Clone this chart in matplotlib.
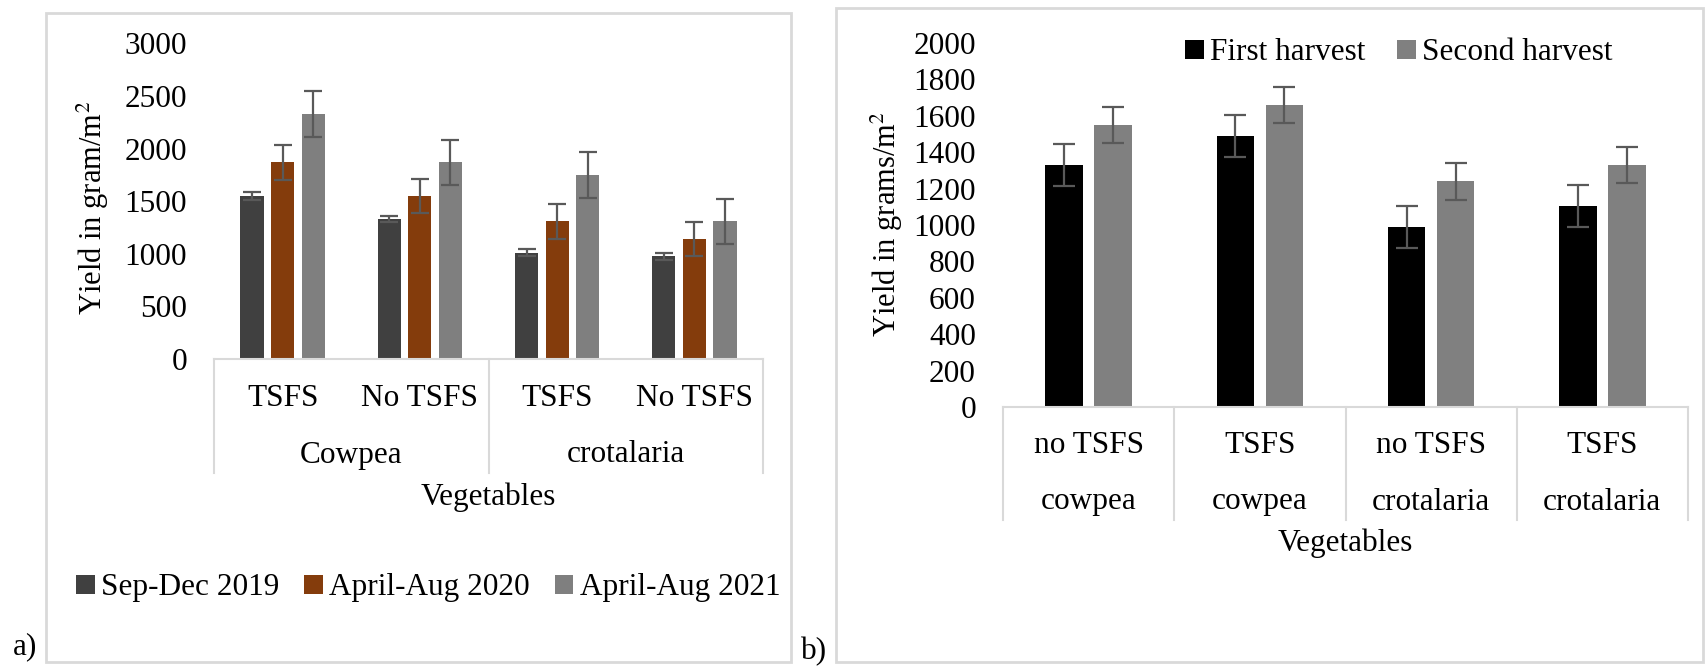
import numpy as np
import matplotlib
matplotlib.use("Agg")
import matplotlib.pyplot as plt
from matplotlib.patches import Rectangle
from matplotlib.lines import Line2D

plt.rcParams['font.family'] = ['Liberation Serif', 'DejaVu Serif']
plt.rcParams['mathtext.fontset'] = 'stix'

# ---- panel a data ----
a_sub = ['TSFS', 'No TSFS', 'TSFS', 'No TSFS']
a_groups = ['Cowpea', 'crotalaria']
a_series = ['Sep-Dec 2019', 'April-Aug 2020', 'April-Aug 2021']
a_colors = ['#404040', '#843C0C', '#7F7F7F']
a_vals = [
    [1550, 1330, 1010, 975],
    [1870, 1550, 1310, 1140],
    [2330, 1870, 1750, 1310],
]
a_err = [
    [40, 25, 35, 30],
    [165, 165, 165, 165],
    [215, 215, 215, 215],
]

# ---- panel b data ----
b_sub = ['no TSFS', 'TSFS', 'no TSFS', 'TSFS']
b_crop = ['cowpea', 'cowpea', 'crotalaria', 'crotalaria']
b_series = ['First harvest', 'Second harvest']
b_colors = ['#000000', '#808080']
b_vals = [
    [1330, 1490, 990, 1105],
    [1550, 1660, 1240, 1330],
]
b_err = [
    [113, 114, 115, 115],
    [100, 100, 100, 100],
]

W, H = 1705, 666
FS = 22.5
GRID = '#D9D9D9'
ERR = '#595959'

fig = plt.figure(figsize=(W / 100, H / 100), dpi=100)


def rect(x0, y0, x1, y1):
    # pixel box (top-left origin) -> figure fraction rect
    return [x0 / W, 1 - y1 / H, (x1 - x0) / W, (y1 - y0) / H]


def yfrac(ypx, base, top):
    return (base - ypx) / (base - top)


def style_axes(ax):
    for s in ['left', 'right', 'top']:
        ax.spines[s].set_visible(False)
    ax.spines['bottom'].set_color(GRID)
    ax.spines['bottom'].set_linewidth(1.5)
    ax.tick_params(axis='y', length=0, labelsize=FS, pad=19.5)
    ax.set_xticks([])


# frames
fig.add_artist(Rectangle((46 / W, 1 - 662 / H), (791 - 46) / W, (662 - 13) / H,
                         transform=fig.transFigure, fill=False, edgecolor=GRID, lw=2))
fig.add_artist(Rectangle((836 / W, 1 - 662 / H), (1703 - 836) / W, (662 - 8) / H,
                         transform=fig.transFigure, fill=False, edgecolor=GRID, lw=2))
fig.text(25 / W, 1 - 647 / H, 'a)', fontsize=FS, ha='center', va='center')
fig.text(814 / W, 1 - 652 / H, 'b)', fontsize=FS, ha='center', va='center')

# ---------------- panel a ----------------
base, top = 359, 43.5
ax = fig.add_axes(rect(214, top, 763, base))
style_axes(ax)
x = np.arange(len(a_sub))
step = 0.223
for i, (name, col) in enumerate(zip(a_series, a_colors)):
    ax.bar(x + (i - 1) * step, a_vals[i], width=0.168, color=col, label=name,
           yerr=a_err[i], capsize=6.5,
           error_kw=dict(ecolor=ERR, elinewidth=1.6, capthick=1.6))
ax.set_xlim(-0.5, len(a_sub) - 0.5)
ax.set_ylim(0, 3000)
ax.set_yticks(np.arange(0, 3001, 500))
ax.set_ylabel('Yield in gram/m$^2$', fontsize=22)
ax.yaxis.set_label_coords((111 - 214) / 549, (359 - 208) / 315.5)
tr = ax.get_xaxis_transform()
for i, lab in enumerate(a_sub):
    ax.text(i, yfrac(399, base, top), lab, transform=tr, ha='center', va='center', fontsize=FS)
for g, lab in enumerate(a_groups):
    ax.text(2 * g + 0.5, yfrac(455, base, top), lab, transform=tr, ha='center', va='center', fontsize=FS)
for xd in [-0.5, 1.5, 3.5]:
    ax.add_line(Line2D([xd, xd], [0, yfrac(473, base, top)], transform=tr,
                       color=GRID, lw=1.5, clip_on=False))
ax.text(1.5, yfrac(497, base, top), 'Vegetables', transform=tr, ha='center', va='center', fontsize=FS)
ax.legend(loc='center', bbox_to_anchor=(428 / W, 1 - 588 / H), bbox_transform=fig.transFigure,
          ncol=3, frameon=False, fontsize=FS, handlelength=0.6, handleheight=0.6,
          handletextpad=0.2, columnspacing=0.8)

# ---------------- panel b ----------------
base, top = 407, 43
bx = fig.add_axes(rect(1003, top, 1688, base))
style_axes(bx)
x = np.arange(len(b_sub))
for i, (name, col) in enumerate(zip(b_series, b_colors)):
    bx.bar(x + (i - 0.5) * 0.286, b_vals[i], width=0.22, color=col, label=name,
           yerr=b_err[i], capsize=8,
           error_kw=dict(ecolor=ERR, elinewidth=1.6, capthick=1.6))
bx.set_xlim(-0.5, len(b_sub) - 0.5)
bx.set_ylim(0, 2000)
bx.set_yticks(np.arange(0, 2001, 200))
bx.set_ylabel('Yield in grams/m$^2$', fontsize=22)
bx.yaxis.set_label_coords((905 - 1003) / 685, (407 - 224) / 364)
tr = bx.get_xaxis_transform()
for i in range(len(b_sub)):
    bx.text(i, yfrac(445, base, top), b_sub[i], transform=tr, ha='center', va='center', fontsize=FS)
    bx.text(i, yfrac(502, base, top), b_crop[i], transform=tr, ha='center', va='center', fontsize=FS)
for xd in np.arange(-0.5, len(b_sub), 1.0):
    bx.add_line(Line2D([xd, xd], [0, yfrac(520, base, top)], transform=tr,
                       color=GRID, lw=1.5, clip_on=False))
bx.text(1.5, yfrac(543, base, top), 'Vegetables', transform=tr, ha='center', va='center', fontsize=FS)
bx.legend(loc='center', bbox_to_anchor=(1399 / W, 1 - 53 / H), bbox_transform=fig.transFigure,
          ncol=2, frameon=False, fontsize=FS, handlelength=0.6, handleheight=0.6,
          handletextpad=0.2, columnspacing=1.0)

fig.savefig('out.png', dpi=100)
